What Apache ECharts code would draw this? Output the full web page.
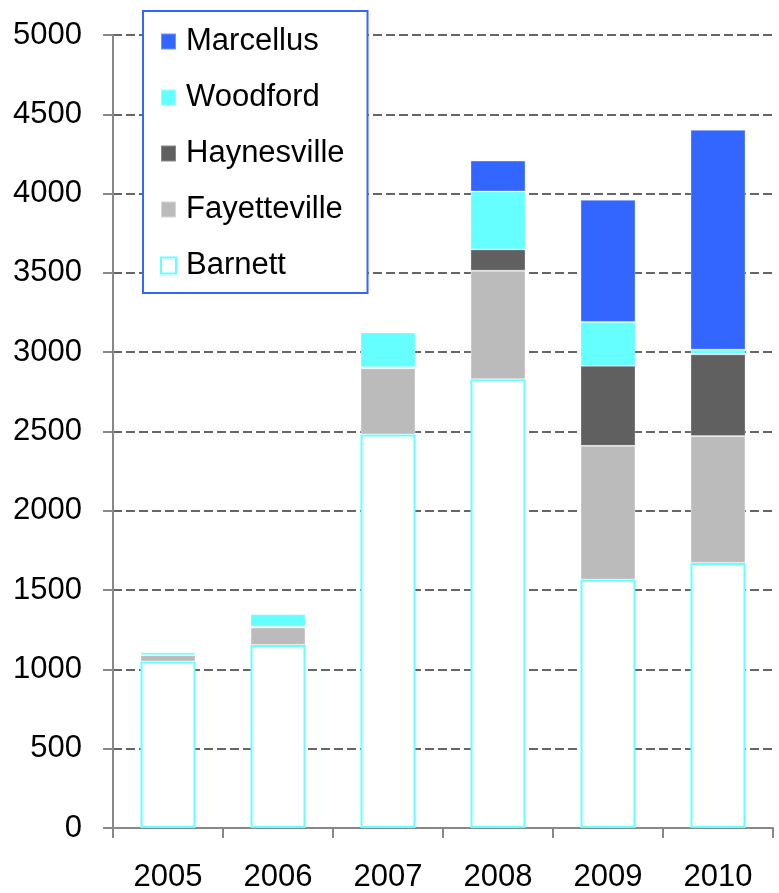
<!DOCTYPE html>
<html>
<head>
<meta charset="utf-8">
<script src="https://cdn.jsdelivr.net/npm/echarts@6/dist/echarts.min.js"></script>
<style>
  html, body { margin: 0; padding: 0; background: #fff; }
  #chart { width: 779px; height: 893px; }
</style>
</head>
<body>
<div id="chart"></div>
<script>
// Shale gas production by play, stacked per year
const years = ['2005', '2006', '2007', '2008', '2009', '2010'];
const barnett      = [1050, 1154, 2481, 2829, 1566, 1671];
const fayetteville = [40, 110, 418, 685, 844, 800];
const haynesville  = [0, 5, 6, 134, 504, 516];
const woodford     = [18, 80, 219, 365, 277, 29];
const marcellus    = [0, 0, 0, 195, 770, 1386];
const legendOrder  = ['Marcellus', 'Woodford', 'Haynesville', 'Fayetteville', 'Barnett'];

const FONT = '"Liberation Sans", Arial, sans-serif';
const FS = 31;

function stackBar(name, data, fill, border, bw) {
  return {
    name: name,
    type: 'bar',
    stack: 'total',
    barWidth: '50%',
    data: data,
    itemStyle: { color: fill, borderColor: border, borderWidth: bw },
    emphasis: { disabled: true }
  };
}

const chart = echarts.init(document.getElementById('chart'), null, { renderer: 'canvas' });
chart.setOption({
  animation: false,
  backgroundColor: '#ffffff',
  grid: { left: 113, right: 6, top: 35, bottom: 64, containLabel: false },
  legend: {
    data: legendOrder.map(n => n === 'Barnett'
      ? { name: n, itemStyle: { color: '#ffffff', borderColor: '#66ffff', borderWidth: 2 } }
      : { name: n }),
    orient: 'vertical',
    left: 143,
    top: 11,
    itemWidth: 15,
    itemHeight: 16,
    itemGap: 25,
    icon: 'rect',
    padding: [15, 23, 12, 17],
    backgroundColor: '#ffffff',
    borderColor: '#3366ff',
    borderWidth: 2,
    borderRadius: 0,
    selectedMode: false,
    textStyle: { fontFamily: FONT, fontSize: FS, color: '#000', padding: [0, 0, 0, 5] }
  },
  xAxis: {
    type: 'category',
    data: years,
    axisLine: { lineStyle: { color: '#888888', width: 2 } },
    axisTick: { show: true, length: 10, lineStyle: { color: '#888888', width: 2 } },
    axisLabel: { fontFamily: FONT, fontSize: FS, color: '#000', margin: 34 }
  },
  yAxis: {
    type: 'value',
    min: 0,
    max: 5000,
    interval: 500,
    axisLine: { show: true, lineStyle: { color: '#888888', width: 2 } },
    axisTick: { show: true, length: 10, lineStyle: { color: '#888888', width: 2 } },
    axisLabel: { fontFamily: FONT, fontSize: FS, color: '#000', margin: 31,
                 formatter: v => String(v) },
    splitLine: { show: true, lineStyle: { color: '#666666', width: 2, type: [9, 4] } }
  },
  series: [
    stackBar('Barnett', barnett, '#ffffff', '#66ffff', 2),
    stackBar('Fayetteville', fayetteville, '#bbbbbb', 'rgba(255,255,255,0.4)', 1),
    stackBar('Haynesville', haynesville, '#606060', 'rgba(255,255,255,0.25)', 1),
    stackBar('Woodford', woodford, '#66ffff', 'rgba(255,255,255,0.3)', 1),
    stackBar('Marcellus', marcellus, '#3366ff', 'rgba(255,255,255,0.3)', 1)
  ]
});
</script>
</body>
</html>
